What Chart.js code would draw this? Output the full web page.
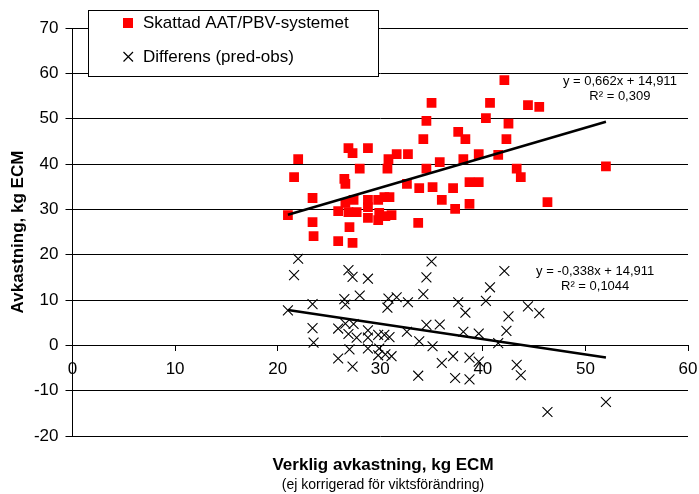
<!DOCTYPE html>
<html>
<head>
<meta charset="utf-8">
<script src="https://cdn.jsdelivr.net/npm/chart.js@4.4.0/dist/chart.umd.min.js"></script>
<style>
  html, body { margin: 0; padding: 0; background: #ffffff; }
  #wrap { width: 699px; height: 494px; position: relative; }
</style>
</head>
<body>
<div id="wrap"><canvas id="c" width="699" height="494"></canvas></div>
<script>
// Verklig avkastning (kg ECM) per observation
const verklig = [
  21.0, 21.6, 22.0, 23.4, 23.4, 23.5, 25.9, 27.3, 27.0, 26.5,
  26.6, 26.9, 27.3, 28.8, 28.0, 28.8, 30.8, 31.6, 32.7, 30.7,
  35.0, 34.5, 34.2, 34.5, 35.8, 37.6, 38.3, 38.1, 32.6, 33.8,
  35.1, 37.1, 38.7, 36.0, 37.3, 38.7, 33.7, 42.1, 40.7, 44.4,
  45.5, 40.3, 42.5, 42.3, 39.6, 41.5, 43.3, 43.7, 52.0, 39.6,
  46.3, 25.9, 26.6, 26.9, 27.4, 27.7, 28.8, 28.8, 29.8, 30.4,
  30.9, 29.9, 30.5, 31.1, 29.8
];

// Skattad avkastning enligt AAT/PBV-systemet
const skattad = [
  28.7, 37.1, 41.1, 32.5, 27.2, 24.1, 23.0, 22.6, 26.1, 36.7,
  35.6, 43.5, 42.4, 43.5, 39.0, 28.1, 41.1, 42.2, 42.2, 39.0,
  53.5, 49.5, 45.5, 39.0, 40.4, 47.1, 45.5, 41.1, 35.6, 34.7,
  34.9, 34.7, 36.0, 32.1, 30.1, 31.2, 27.0, 58.5, 53.5, 53.0,
  52.6, 50.1, 48.9, 45.5, 42.2, 42.0, 39.0, 37.1, 39.5, 36.0,
  31.6, 29.6, 31.4, 29.4, 32.1, 29.4, 32.1, 30.5, 32.1, 32.7,
  32.7, 29.2, 28.5, 28.7, 27.6
];

// Differens (pred-obs)
const differens = [
  7.7, 15.5, 19.1, 9.1, 3.8, 0.6, -2.9, -4.7, -0.9, 10.2,
  9.0, 16.6, 15.1, 14.7, 11.0, -0.7, 10.3, 10.6, 9.5, 8.3,
  18.5, 15.0, 11.3, 4.5, 4.6, 9.5, 7.2, 3.0, 3.0, 0.9,
  -0.2, -2.4, -2.7, -3.9, -7.2, -7.5, -6.7, 16.4, 12.8, 8.6,
  7.1, 9.8, 6.4, 3.2, 2.6, 0.5, -4.3, -6.6, -12.5, -3.6,
  -14.7, 3.7, 4.8, 2.5, 4.7, 1.7, 3.3, 1.7, 2.3, 2.3,
  1.8, -0.7, -2.0, -2.4, -2.2
];

// Linear trend lines: slope, intercept, R²
const trendSkattad = [0.662, 14.911, 0.309];
const trendDifferens = [-0.338, 14.911, 0.1044];

const seriesNames = ['Skattad AAT/PBV-systemet', 'Differens (pred-obs)'];

const FONT = '"Liberation Sans", Arial, Helvetica, sans-serif';
Chart.defaults.font.family = FONT;
Chart.defaults.color = '#000000';

const xMin = Math.min(...verklig);
const xMax = Math.max(...verklig);
function trendPoints(t) {
  return [xMin, xMax].map(x => ({ x: x, y: t[0] * x + t[1] }));
}
function sv(n) { return String(n).replace('.', ','); }
function eqText(t) {
  const s = t[0].toFixed(3).replace('.', ',');
  const b = t[1].toFixed(3).replace('.', ',');
  return 'y = ' + s + 'x + ' + b;
}

// Equation labels, anchored in data units (centre of text block)
const eqLabels = [
  { t: trendSkattad, ax: 53.36, ay: 58.15, gap: 15 },
  { t: trendDifferens, ax: 50.95, ay: 16.39, gap: 15 }
];

const decor = {
  id: 'decor',
  afterDraw(chart) {
    const { ctx } = chart;
    const sx = chart.scales.x, sy = chart.scales.y;
    ctx.save();

    // Legend box
    ctx.fillStyle = '#ffffff';
    ctx.fillRect(88.5, 10.5, 290, 66);
    ctx.strokeStyle = '#000000';
    ctx.lineWidth = 1;
    ctx.strokeRect(88.5, 10.5, 290, 66);

    const ds0 = chart.data.datasets[0], ds1 = chart.data.datasets[1];
    ctx.fillStyle = ds0.backgroundColor;
    ctx.fillRect(123, 18, 10, 10);
    ctx.strokeStyle = ds1.borderColor;
    ctx.lineWidth = 1.2;
    ctx.beginPath();
    ctx.moveTo(123.5, 52); ctx.lineTo(133, 61.5);
    ctx.moveTo(133, 52); ctx.lineTo(123.5, 61.5);
    ctx.stroke();

    ctx.fillStyle = '#000000';
    ctx.font = '17px ' + FONT;
    ctx.textAlign = 'left';
    ctx.textBaseline = 'middle';
    ctx.fillText(ds0.label, 143, 23);
    ctx.fillText(ds1.label, 143, 57);

    // Trend equations
    ctx.font = '13px ' + FONT;
    ctx.textAlign = 'center';
    eqLabels.forEach(l => {
      const px = sx.getPixelForValue(l.ax);
      const py = sy.getPixelForValue(l.ay);
      ctx.fillText(eqText(l.t), px, py);
      ctx.fillText('R\u00B2 = ' + sv(l.t[2]), px, py + l.gap);
    });

    // X axis title
    ctx.font = 'bold 17px ' + FONT;
    ctx.fillText('Verklig avkastning, kg ECM', 383, 465);
    ctx.font = '14px ' + FONT;
    ctx.fillText('(ej korrigerad f\u00F6r viktsf\u00F6r\u00E4ndring)', 383, 485);

    ctx.restore();
  }
};

new Chart(document.getElementById('c'), {
  type: 'scatter',
  data: {
    datasets: [
      {
        label: seriesNames[0],
        data: verklig.map((x, i) => ({ x: x, y: skattad[i] })),
        pointStyle: 'rect',
        pointRadius: 6.9,
        pointHoverRadius: 6.9,
        backgroundColor: '#ff0000',
        borderColor: '#ff0000',
        borderWidth: 0,
        order: 3
      },
      {
        label: seriesNames[1],
        data: verklig.map((x, i) => ({ x: x, y: differens[i] })),
        pointStyle: 'crossRot',
        pointRadius: 7,
        pointHoverRadius: 7,
        borderColor: '#000000',
        backgroundColor: '#000000',
        borderWidth: 1.1,
        order: 2
      },
      {
        type: 'line',
        label: 'trend1',
        data: trendPoints(trendSkattad),
        borderColor: '#000000',
        borderWidth: 2.5,
        pointRadius: 0,
        fill: false,
        order: 1
      },
      {
        type: 'line',
        label: 'trend2',
        data: trendPoints(trendDifferens),
        borderColor: '#000000',
        borderWidth: 2.5,
        pointRadius: 0,
        fill: false,
        order: 1
      }
    ]
  },
  options: {
    responsive: false,
    animation: false,
    events: [],
    layout: { padding: { left: 0, top: 28, right: 11, bottom: 58 } },
    plugins: {
      legend: { display: false },
      tooltip: { enabled: false }
    },
    scales: {
      x: {
        type: 'linear',
        position: { y: 0 },
        min: 0,
        max: 60,
        ticks: { stepSize: 10, font: { size: 17 }, padding: 9, color: '#000000', maxRotation: 0 },
        grid: { drawOnChartArea: false, drawTicks: true, tickLength: 5, color: '#000000' },
        border: { display: true, color: '#000000', width: 1 },
        afterFit(s) { s.height = 0; s.paddingLeft = 0; s.paddingRight = 0; }
      },
      y: {
        type: 'linear',
        position: 'left',
        min: -20,
        max: 70,
        ticks: { stepSize: 10, font: { size: 17 }, padding: 7, color: '#000000' },
        grid: { color: '#000000', lineWidth: 1, tickLength: 7 },
        border: { display: true, color: '#000000', width: 1 },
        title: {
          display: true,
          text: 'Avkastning, kg ECM',
          font: { size: 17, weight: 'bold' },
          color: '#000000',
          padding: { top: 8, bottom: 0 }
        },
        afterFit(s) { s.width = 72.5; }
      }
    }
  },
  plugins: [decor]
});
</script>
</body>
</html>
